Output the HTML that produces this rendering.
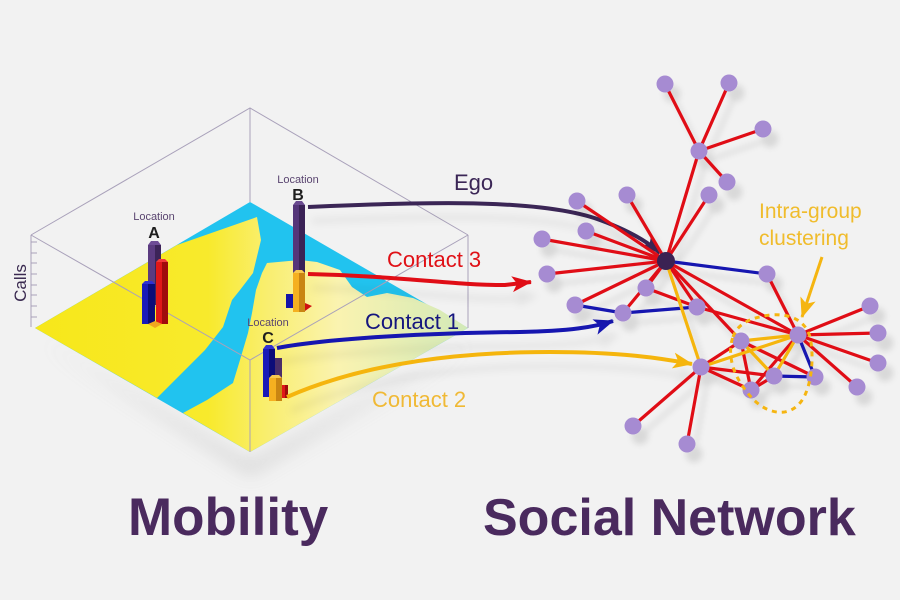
<!DOCTYPE html>
<html><head><meta charset="utf-8"><style>
html,body{margin:0;padding:0;background:#f2f2f2;}
svg{display:block;}
text{font-family:"Liberation Sans",Arial,sans-serif;}
</style></head><body>
<svg width="900" height="600" viewBox="0 0 900 600" xmlns="http://www.w3.org/2000/svg">
<defs>
<linearGradient id="yg" gradientUnits="userSpaceOnUse" x1="35" y1="0" x2="468" y2="0">
<stop offset="0" stop-color="#f7e71a"/>
<stop offset="0.4" stop-color="#f8ea2c"/>
<stop offset="0.53" stop-color="#f9ee6c"/>
<stop offset="0.7" stop-color="#faf3b0"/>
<stop offset="1" stop-color="#d2e9b8"/>
</linearGradient>
<filter id="blur8" x="-20%" y="-20%" width="140%" height="140%"><feGaussianBlur stdDeviation="9"/></filter>
<filter id="sh" x="-20%" y="-20%" width="140%" height="140%"><feDropShadow dx="7" dy="10" stdDeviation="3" flood-color="#000" flood-opacity="0.10"/></filter>
<filter id="sh2" x="-20%" y="-50%" width="140%" height="200%"><feDropShadow dx="4" dy="14" stdDeviation="4" flood-color="#000" flood-opacity="0.08"/></filter>
<marker id="aEgo" markerUnits="userSpaceOnUse" markerWidth="22" markerHeight="18" refX="19" refY="9" orient="auto" viewBox="0 0 22 18"><path d="M0,1 L20,9 L0,17 L5,9 Z" fill="#3b2656"/></marker>
<marker id="aRed" markerUnits="userSpaceOnUse" markerWidth="22" markerHeight="18" refX="19" refY="9" orient="auto" viewBox="0 0 22 18"><path d="M0,1 L20,9 L0,17 L5,9 Z" fill="#e01016"/></marker>
<marker id="aBlue" markerUnits="userSpaceOnUse" markerWidth="22" markerHeight="18" refX="19" refY="9" orient="auto" viewBox="0 0 22 18"><path d="M0,1 L20,9 L0,17 L5,9 Z" fill="#1414b0"/></marker>
<marker id="aYel" markerUnits="userSpaceOnUse" markerWidth="22" markerHeight="18" refX="19" refY="9" orient="auto" viewBox="0 0 22 18"><path d="M0,1 L20,9 L0,17 L5,9 Z" fill="#f5b511"/></marker>
</defs>

<!-- shadow under map -->
<polygon points="45,342 250,464 472,342 250,474" fill="#b4b4b4" opacity="0.6" filter="url(#blur8)"/>

<!-- map plane -->
<polygon points="35,328 250,202 468,328 250,452" fill="#21c3ef"/>
<polygon points="35,328 177,245 257,217 261,240 253,273 240,290 232,300 223,327 205,350 157,398" fill="url(#yg)"/>
<polygon points="183,413 250,452 468,328 440,310 413,298 387,293 367,297 352,287 340,270 317,262 300,260 267,263 262,273 256,290 252,313 248,333 240,360 233,383 207,400" fill="url(#yg)"/>

<!-- wireframe box -->
<g stroke="#a9a1ba" stroke-width="1" fill="none">
<polyline points="31,235 250,108 468,235"/>
<polyline points="31,235 250,360 468,235"/>
<line x1="250" y1="108" x2="250" y2="202"/>
<line x1="250" y1="360" x2="250" y2="452"/>
<line x1="31" y1="235" x2="31" y2="327"/>
<line x1="468" y1="235" x2="468" y2="328"/>
<path d="M31,242h6M31,253h6M31,263h6M31,274h6M31,285h6M31,295h6M31,306h6M31,317h6"/>
</g>
<text x="0" y="0" transform="translate(26,283) rotate(-90)" font-size="17" fill="#3a2a50" text-anchor="middle">Calls</text>

<!-- Location A -->
<text x="154" y="220" font-size="11" fill="#5a4570" text-anchor="middle">Location</text>
<text x="154" y="238" font-size="16" font-weight="bold" fill="#1e1e1e" text-anchor="middle">A</text>
<rect x="148" y="245" width="7" height="60" fill="#5b3b80"/>
<rect x="155" y="245" width="6" height="60" fill="#3c2458"/>
<polygon points="148,245 151,241 158,241 161,245" fill="#6e4c96"/>
<rect x="156" y="262" width="6" height="62" fill="#e01818"/>
<rect x="162" y="262" width="6" height="62" fill="#a00c0c"/>
<polygon points="156,262 159,259 165,259 168,262" fill="#f03a3a"/>
<rect x="142" y="284" width="6" height="40" fill="#1a1ab8"/>
<rect x="148" y="284" width="7" height="40" fill="#0c0c78"/>
<polygon points="142,284 145,281 152,281 155,284" fill="#3030d0"/>
<polygon points="148,324 155,328 162,324 155,321" fill="#f0a820"/>

<!-- Location B -->
<text x="298" y="183" font-size="11" fill="#5a4570" text-anchor="middle">Location</text>
<text x="298" y="200" font-size="16" font-weight="bold" fill="#1e1e1e" text-anchor="middle">B</text>
<rect x="293" y="205" width="6" height="70" fill="#55367a"/>
<rect x="299" y="205" width="6" height="70" fill="#3a2256"/>
<polygon points="293,205 296,201 302,201 305,205" fill="#6a4a90"/>
<rect x="286" y="294" width="7" height="14" fill="#1414a8"/>
<rect x="293" y="273" width="6" height="39" fill="#f5b020"/>
<rect x="299" y="273" width="6" height="39" fill="#c98512"/>
<polygon points="293,273 296,270 302,270 305,273" fill="#f8c850"/>
<polygon points="305,303 312,306 305,311" fill="#d01010"/>

<!-- Location C -->
<text x="268" y="326" font-size="11" fill="#5a4570" text-anchor="middle">Location</text>
<text x="268" y="343" font-size="16" font-weight="bold" fill="#1e1e1e" text-anchor="middle">C</text>
<rect x="275" y="358" width="7" height="30" fill="#4a2e6a"/>
<rect x="263" y="349" width="6" height="48" fill="#1a1ab8"/>
<rect x="269" y="349" width="6" height="48" fill="#0c0c78"/>
<polygon points="263,349 266,345 272,345 275,349" fill="#3030d0"/>
<rect x="269" y="378" width="7" height="23" fill="#f5b020"/>
<rect x="276" y="378" width="6" height="23" fill="#c98512"/>
<polygon points="269,378 272,375 279,375 282,378" fill="#f8c850"/>
<rect x="282" y="385" width="3" height="13" fill="#e01818"/>
<rect x="285" y="385" width="3" height="13" fill="#a00c0c"/>

<!-- connectors -->
<g filter="url(#sh2)">
<path d="M308,207 C420,202 540,198 600,220 C630,231 648,242 660,253" stroke="#3b2656" stroke-width="4" fill="none" marker-end="url(#aEgo)"/>
<path d="M308,274 C400,276 450,285 505,285 L531,282" stroke="#e01016" stroke-width="4" fill="none" marker-end="url(#aRed)"/>
<path d="M277,348 C330,338 430,333 520,332 C570,331 595,327 613,321" stroke="#1414b0" stroke-width="4" fill="none" marker-end="url(#aBlue)"/>
<path d="M287,397 C360,365 450,352 550,352 C620,352 660,358 692,364" stroke="#f5b511" stroke-width="4" fill="none" marker-end="url(#aYel)"/>
</g>

<text x="454" y="190" font-size="22" fill="#3b2656">Ego</text>
<text x="387" y="267" font-size="22" fill="#e01016">Contact 3</text>
<text x="365" y="329" font-size="22" fill="#15157e">Contact 1</text>
<text x="372" y="407" font-size="22" fill="#f0b935">Contact 2</text>

<!-- network -->
<g filter="url(#sh)" stroke-width="3.2" stroke-linecap="round" fill="none">
<g stroke="#e01016">
<line x1="699" y1="151" x2="665" y2="84"/>
<line x1="699" y1="151" x2="729" y2="83"/>
<line x1="699" y1="151" x2="763" y2="129"/>
<line x1="699" y1="151" x2="727" y2="182"/>
<line x1="699" y1="151" x2="666" y2="261"/>
<line x1="666" y1="261" x2="577" y2="201"/>
<line x1="666" y1="261" x2="627" y2="195"/>
<line x1="666" y1="261" x2="709" y2="195"/>
<line x1="666" y1="261" x2="542" y2="239"/>
<line x1="666" y1="261" x2="586" y2="231"/>
<line x1="666" y1="261" x2="547" y2="274"/>
<line x1="666" y1="261" x2="575" y2="305"/>
<line x1="666" y1="261" x2="623" y2="313"/>
<line x1="666" y1="261" x2="646" y2="288"/>
<line x1="646" y1="288" x2="697" y2="307"/>
<line x1="666" y1="261" x2="798" y2="335"/>
<line x1="666" y1="261" x2="741" y2="341"/>
<line x1="666" y1="261" x2="697" y2="307"/>
<line x1="697" y1="307" x2="798" y2="335"/>
<line x1="767" y1="274" x2="798" y2="335"/>
<line x1="798" y1="335" x2="870" y2="306"/>
<line x1="798" y1="335" x2="878" y2="333"/>
<line x1="798" y1="335" x2="878" y2="363"/>
<line x1="798" y1="335" x2="857" y2="387"/>
<line x1="701" y1="367" x2="633" y2="426"/>
<line x1="701" y1="367" x2="687" y2="444"/>
<line x1="701" y1="367" x2="741" y2="341"/>
<line x1="701" y1="367" x2="751" y2="390"/>
<line x1="701" y1="367" x2="774" y2="376"/>
<line x1="741" y1="341" x2="751" y2="390"/>
<line x1="741" y1="341" x2="815" y2="377"/>
<line x1="798" y1="335" x2="751" y2="390"/>
<line x1="751" y1="390" x2="774" y2="376"/>
</g>
<g stroke="#1414b0">
<line x1="666" y1="261" x2="767" y2="274"/>
<line x1="575" y1="305" x2="623" y2="313"/>
<line x1="623" y1="313" x2="697" y2="307"/>
<line x1="798" y1="335" x2="815" y2="377"/>
<line x1="774" y1="376" x2="815" y2="377"/>
</g>
<g stroke="#f5b511">
<line x1="666" y1="261" x2="701" y2="367"/>
<line x1="701" y1="367" x2="798" y2="335"/>
<line x1="741" y1="341" x2="798" y2="335"/>
<line x1="798" y1="335" x2="774" y2="376"/>
<line x1="741" y1="341" x2="774" y2="376"/>
</g>
<g fill="#a68bd2" stroke="none">
<circle cx="665" cy="84" r="8.5"/><circle cx="729" cy="83" r="8.5"/><circle cx="763" cy="129" r="8.5"/>
<circle cx="699" cy="151" r="8.5"/><circle cx="727" cy="182" r="8.5"/><circle cx="577" cy="201" r="8.5"/>
<circle cx="627" cy="195" r="8.5"/><circle cx="709" cy="195" r="8.5"/><circle cx="542" cy="239" r="8.5"/>
<circle cx="586" cy="231" r="8.5"/><circle cx="547" cy="274" r="8.5"/><circle cx="767" cy="274" r="8.5"/>
<circle cx="646" cy="288" r="8.5"/><circle cx="575" cy="305" r="8.5"/><circle cx="623" cy="313" r="8.5"/>
<circle cx="697" cy="307" r="8.5"/><circle cx="870" cy="306" r="8.5"/><circle cx="798" cy="335" r="8.5"/>
<circle cx="878" cy="333" r="8.5"/><circle cx="741" cy="341" r="8.5"/><circle cx="878" cy="363" r="8.5"/>
<circle cx="701" cy="367" r="8.5"/><circle cx="774" cy="376" r="8.5"/><circle cx="815" cy="377" r="8.5"/>
<circle cx="751" cy="390" r="8.5"/><circle cx="857" cy="387" r="8.5"/><circle cx="633" cy="426" r="8.5"/>
<circle cx="687" cy="444" r="8.5"/>
<circle cx="666" cy="261" r="9" fill="#3b2452"/>
</g>
</g>

<!-- intra-group -->
<path d="M733,337 C737,325 748,318 770,315 C792,313 806,322 810,337 C814,355 812,380 805,395 C798,410 785,415 772,411 C758,407 748,395 740,382 C731,368 728,350 733,337 Z" stroke="#f5b511" stroke-width="3" stroke-dasharray="5,5" fill="none"/>
<line x1="822" y1="257" x2="802" y2="317" stroke="#f5b511" stroke-width="3" marker-end="url(#aYel)"/>
<text x="759" y="218" font-size="21" fill="#f0bc2c">Intra-group</text>
<text x="759" y="245" font-size="21" fill="#f0bc2c">clustering</text>

<!-- titles -->
<text x="128" y="535" font-size="53" font-weight="bold" fill="#4a2a5e">Mobility</text>
<text x="483" y="535" font-size="52" font-weight="bold" fill="#4a2a5e">Social Network</text>
</svg>
</body></html>
